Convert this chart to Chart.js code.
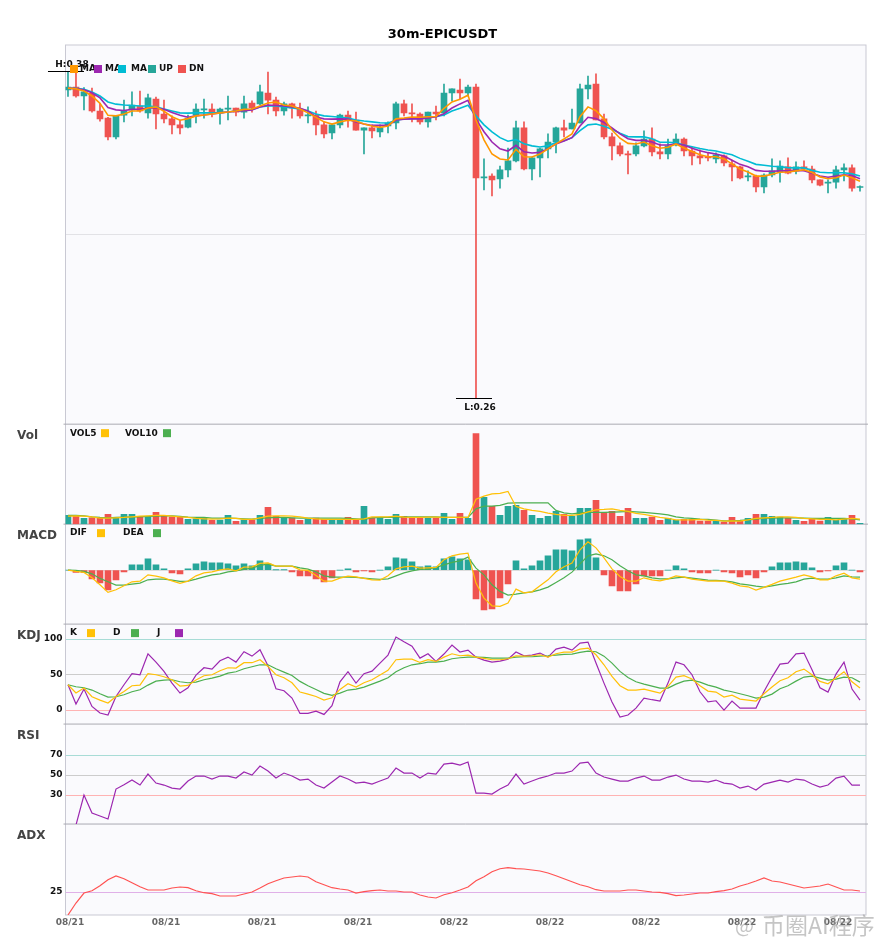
<!DOCTYPE html>
<html>
<head>
<meta charset="utf-8">
<title>30m-EPICUSDT</title>
<script src="https://cdn.jsdelivr.net/npm/chart.js@4"></script>
<style>
html, body { margin: 0; padding: 0; background: #fff; }
canvas { display: block; }
</style>
</head>
<body>
<canvas id="chart" width="885" height="950"></canvas>
<script>
const tickDays = ['08/21', '08/21', '08/21', '08/21', '08/22', '08/22', '08/22', '08/22', '08/22'];
const tickIndexes = [0, 12, 24, 36, 48, 60, 72, 84, 96];

const opens = [
    .3732, .3743, .3710, .3720, .3655, .3629, .3560, .3640, .3659, .3673,
    .3648, .3699, .3644, .3626, .3604, .3596, .3640, .3659, .3662, .3648,
    .3662, .3666, .3651, .3684, .3681, .3721, .3695, .3655, .3681, .3662,
    .3637, .3640, .3604, .3574, .3604, .3640, .3622, .3585, .3593, .3578,
    .3600, .3611, .3681, .3648, .3644, .3615, .3651, .3648, .3721, .3732,
    .3721, .3743, .3409, .3416, .3406, .3439, .3472, .3593, .3442, .3483,
    .3516, .3541, .3593, .3589, .3611, .3736, .3754, .3626, .3560, .3527,
    .3497, .3497, .3527, .3552, .3505, .3497, .3530, .3552, .3508, .3490,
    .3486, .3479, .3490, .3461, .3450, .3413, .3416, .3376, .3420, .3431,
    .3450, .3435, .3450, .3442, .3402, .3390, .3394, .3439, .3446, .3374
];
const closes = [
    .3743, .3710, .3725, .3655, .3626, .3560, .3637, .3655, .3677, .3655,
    .3703, .3644, .3626, .3604, .3593, .3629, .3662, .3662, .3648, .3662,
    .3666, .3651, .3681, .3666, .3725, .3695, .3655, .3681, .3666, .3637,
    .3640, .3604, .3571, .3604, .3640, .3622, .3585, .3593, .3582, .3593,
    .3611, .3681, .3648, .3644, .3615, .3651, .3644, .3721, .3736, .3721,
    .3743, .3409, .3413, .3402, .3439, .3472, .3593, .3442, .3483, .3516,
    .3541, .3593, .3585, .3611, .3736, .3750, .3622, .3560, .3527, .3497,
    .3494, .3527, .3552, .3505, .3497, .3527, .3552, .3508, .3490, .3483,
    .3483, .3494, .3464, .3450, .3409, .3416, .3376, .3420, .3435, .3453,
    .3427, .3450, .3442, .3402, .3383, .3394, .3439, .3446, .3372, .3377
];
const highs = [
    .3800, .3799, .3741, .3739, .3683, .3632, .3639, .3695, .3725, .3728,
    .3717, .3706, .3695, .3637, .3622, .3640, .3681, .3699, .3681, .3666,
    .3710, .3666, .3710, .3692, .3750, .3798, .3706, .3688, .3684, .3684,
    .3670, .3655, .3615, .3607, .3644, .3655, .3651, .3593, .3604, .3604,
    .3615, .3688, .3695, .3681, .3648, .3651, .3673, .3754, .3736, .3772,
    .3750, .3754, .3479, .3424, .3453, .3519, .3618, .3615, .3486, .3519,
    .3571, .3596, .3622, .3662, .3754, .3783, .3791, .3644, .3574, .3538,
    .3508, .3538, .3582, .3593, .3534, .3552, .3571, .3556, .3523, .3512,
    .3501, .3501, .3494, .3475, .3453, .3435, .3420, .3424, .3479, .3472,
    .3483, .3468, .3472, .3453, .3402, .3402, .3453, .3461, .3457, .3380
];
const lows = [
    .3708, .3706, .3659, .3651, .3618, .3549, .3552, .3615, .3637, .3651,
    .3629, .3589, .3611, .3571, .3571, .3593, .3611, .3629, .3633, .3607,
    .3622, .3637, .3629, .3651, .3677, .3644, .3637, .3640, .3629, .3629,
    .3611, .3567, .3556, .3552, .3593, .3596, .3585, .3497, .3556, .3560,
    .3574, .3589, .3637, .3615, .3607, .3596, .3622, .3637, .3692, .3699,
    .3710, .2600, .3365, .3343, .3372, .3413, .3468, .3439, .3402, .3413,
    .3483, .3501, .3560, .3589, .3611, .3699, .3622, .3552, .3475, .3490,
    .3424, .3490, .3523, .3490, .3479, .3479, .3527, .3490, .3457, .3461,
    .3472, .3464, .3453, .3398, .3406, .3398, .3358, .3354, .3413, .3394,
    .3424, .3424, .3435, .3391, .3380, .3354, .3372, .3398, .3361, .3361
];
const ma5 = [
    .3739, .3736, .3728, .3710, .3683, .3639, .3637, .3644, .3655, .3655,
    .3666, .3670, .3654, .3634, .3621, .3627, .3637, .3640, .3644, .3648,
    .3651, .3655, .3661, .3662, .3673, .3684, .3688, .3677, .3673, .3662,
    .3648, .3632, .3615, .3607, .3615, .3621, .3618, .3607, .3600, .3595,
    .3600, .3626, .3629, .3633, .3632, .3634, .3635, .3665, .3688, .3698,
    .3713, .3622, .3549, .3497, .3479, .3475, .3514, .3487, .3486, .3497,
    .3516, .3534, .3552, .3571, .3634, .3670, .3656, .3626, .3585, .3555,
    .3536, .3534, .3541, .3527, .3518, .3522, .3534, .3519, .3506, .3494,
    .3487, .3487, .3479, .3461, .3442, .3431, .3416, .3416, .3423, .3430,
    .3431, .3435, .3439, .3429, .3413, .3406, .3410, .3420, .3410, .3397
];
const ma10 = [
    .3739, .3737, .3733, .3722, .3703, .3668, .3659, .3657, .3661, .3662,
    .3665, .3667, .3661, .3649, .3639, .3632, .3637, .3640, .3644, .3648,
    .3651, .3654, .3656, .3659, .3670, .3677, .3675, .3673, .3670, .3665,
    .3655, .3633, .3626, .3625, .3626, .3625, .3615, .3607, .3602, .3602,
    .3602, .3622, .3625, .3626, .3626, .3629, .3634, .3645, .3666, .3681,
    .3694, .3625, .3579, .3541, .3516, .3508, .3529, .3505, .3501, .3503,
    .3516, .3534, .3545, .3557, .3600, .3632, .3627, .3613, .3593, .3571,
    .3553, .3547, .3547, .3541, .3530, .3530, .3534, .3530, .3518, .3509,
    .3502, .3497, .3490, .3474, .3459, .3450, .3437, .3434, .3434, .3435,
    .3435, .3437, .3436, .3426, .3416, .3412, .3416, .3421, .3418, .3406
];
const ma20 = [
    .3739, .3738, .3735, .3725, .3710, .3688, .3680, .3677, .3675, .3673,
    .3673, .3670, .3662, .3655, .3648, .3647, .3648, .3648, .3648, .3649,
    .3651, .3655, .3659, .3661, .3670, .3673, .3673, .3670, .3666, .3662,
    .3655, .3644, .3637, .3635, .3632, .3629, .3622, .3618, .3615, .3612,
    .3611, .3621, .3626, .3627, .3628, .3632, .3634, .3640, .3655, .3665,
    .3676, .3637, .3604, .3578, .3557, .3544, .3550, .3535, .3527, .3523,
    .3527, .3539, .3546, .3557, .3583, .3604, .3607, .3599, .3588, .3573,
    .3561, .3560, .3560, .3553, .3540, .3540, .3538, .3530, .3524, .3517,
    .3512, .3508, .3501, .3494, .3481, .3470, .3459, .3456, .3452, .3450,
    .3447, .3446, .3446, .3437, .3430, .3428, .3428, .3428, .3424, .3416
];
const volumes = [
    8.7, 7.7, 5.7, 6.3, 6.3, 9.7, 5.7, 9.7, 9.7, 7.7,
    7.7, 11.7, 7.7, 7, 7.7, 4.7, 5.3, 5.7, 3.7, 4,
    8.7, 2.7, 4, 4, 8.7, 16.7, 7.7, 6, 6, 3.7,
    4.7, 6, 4.7, 4, 4, 6.7, 4, 17.7, 6.3, 6.3,
    4.7, 9.7, 7.7, 6.3, 6, 6, 6, 10.7, 4.7, 10.7,
    5.7, 90.7, 26.7, 17.7, 8.7, 17.7, 18.7, 13.7, 8.7, 5.7,
    7.7, 12.7, 9.7, 7.7, 15.7, 15.7, 23.7, 11.7, 12.7, 7.7,
    15.7, 5.7, 5.7, 7, 3.7, 5.7, 3.7, 4.7, 4.7, 3,
    3, 3, 2, 6.7, 3, 5.7, 9.7, 9.7, 7.7, 7,
    5.7, 3.7, 2.7, 4.7, 3, 6.7, 3.7, 5.7, 8.7, 0.7
];
const vol5 = [
    8, 8.3, 8, 7.3, 6, 6, 6.3, 6.7, 7.3, 8,
    8.3, 8.7, 8.7, 8, 7.3, 6.7, 5.7, 5.3, 5, 5.3,
    6, 5.7, 4.7, 4.7, 6.3, 8, 8.3, 8.3, 8, 7.3,
    6, 5.3, 4.7, 4.7, 4.7, 4.7, 4.7, 5.3, 7.3, 7.3,
    7.3, 8, 7, 6.7, 6.7, 7, 7, 6.7, 6.7, 6.7,
    6.7, 25, 28, 30.3, 30.7, 32.7, 17.7, 15.3, 13.7, 12.7,
    11, 9.7, 8.7, 8.7, 9.7, 12.3, 14.3, 14.7, 15.3, 13.7,
    12.7, 10.7, 9.7, 8.3, 6.7, 5.7, 4.3, 4.3, 4.3, 4.7,
    4, 3.7, 3, 3.3, 3, 4.3, 5.7, 6.3, 6.7, 7.3,
    7.3, 6.7, 5.7, 5.3, 4.7, 4.7, 4.3, 5, 5.7, 5
];
const vol10 = [
    8.7, 8.7, 8.3, 7.3, 6.7, 6.3, 6.7, 7, 7.3, 7.3,
    7.7, 8, 8.3, 8.3, 7.7, 7, 6.7, 6.7, 6, 6,
    6, 5.7, 5.3, 5, 5.7, 6.3, 6.7, 6.7, 6.3, 6,
    6, 6, 6, 6, 6, 5.7, 5.3, 4.7, 6.3, 6.7,
    6.7, 7, 7.3, 7.3, 7.3, 7.3, 7.3, 6.7, 6.7, 6.7,
    6.7, 15.3, 18, 18, 18.7, 21, 21.3, 21.3, 21.3, 21.3,
    21.3, 13.7, 11.3, 10.3, 11.3, 11.7, 11.7, 11.7, 12, 12.3,
    12.7, 12.3, 11.7, 11, 10.3, 9.3, 7.3, 6.3, 5.7, 5,
    4.7, 4, 3.3, 3.3, 3.7, 4.3, 5, 6, 6, 6.3,
    6.3, 6.3, 6, 5.7, 5.7, 5.7, 5.7, 5.7, 5.3, 4.3
];
const macdHist = [
    0, -2.3, -2.3, -8.7, -12.7, -19.7, -9.7, -1.7, 5.3, 5.3,
    11.3, 5.3, 1.3, -2.7, -3.7, 1.3, 6.3, 8.3, 7.3, 7.3,
    6.3, 4.3, 6.3, 4.3, 9.3, 6.3, 0.3, 0.3, -1.7, -5.7,
    -5.7, -8.7, -11.7, -7.7, 0, 1.3, -1.7, -0.7, -1.7, 0,
    3.3, 12.3, 11.3, 8.3, 3.3, 4.3, 3.3, 11.3, 13.3, 11.3,
    10.3, -28.7, -39.7, -38.7, -27.7, -13.7, 9.3, 1.3, 4.3, 9.3,
    14.3, 20.3, 20.3, 19.3, 30.3, 31.3, 12.3, -4.7, -15.7, -20.7,
    -20.7, -13.7, -5.7, -5.7, -5.7, 0, 4.3, 1.3, -1.7, -2.7,
    -2.7, 0, -1.7, -2.7, -6.7, -4.7, -7.7, -1.7, 3.3, 7.3,
    7.3, 8.3, 7.3, 2.3, -1.7, -0.7, 4.3, 7.3, 0, -1.7
];
const dif = [
    0, -1.3, -2.3, -7.7, -14.7, -22.3, -19.7, -15.7, -11.7, -11,
    -4.7, -6, -7.7, -10.7, -13.3, -11, -5.7, -2.7, -1.7, 0.3,
    1.3, -0.7, 3, 3.3, 6.7, 7.3, 4, 4, 4, 0.3,
    -0.3, -5.3, -11, -11, -8, -6, -6.7, -8.3, -9.7, -10,
    -5.7, 1.3, 3.3, 4, 2, 2.3, 2.7, 10.3, 14.3, 16,
    17, -13, -28, -35.7, -36.3, -33, -19, -22.7, -21.7, -15.7,
    -9.7, -1.7, 3.3, 7, 20.3, 28.3, 22.3, 12.3, 1.3, -6.3,
    -11, -11, -7.7, -9.7, -10.7, -8.7, -5.7, -7, -9, -10,
    -11, -10.7, -11, -13, -15.7, -16.7, -20, -17.3, -14.3, -11,
    -9, -7, -4.7, -6.7, -9.7, -9.7, -5.7, -3, -7.7, -9
];
const dea = [
    0, -0.3, -1.3, -3.7, -8.3, -11.7, -15, -15, -14, -13,
    -9.7, -9, -9, -10, -11.3, -11, -9, -6.7, -4.7, -3.7,
    -1.7, -0.7, 0.7, 2, 4.7, 6, 4, 4, 4, 2.3,
    1, -1.7, -5.7, -7, -7, -7, -7.3, -8, -8.7, -9.3,
    -8.7, -5.7, -2.7, -0.7, 0.7, 1, 2.7, 5.3, 7.7, 9.3,
    13, 2, -4.7, -14.7, -21.3, -25, -24, -22.7, -21.7, -19.7,
    -17, -12.3, -7.7, -2, 6.3, 14.3, 16.3, 14.3, 10.3, 4.3,
    -0.7, -4.7, -5.7, -7.7, -8.7, -8.7, -7.7, -7, -8, -9,
    -10, -10.3, -10.7, -11.7, -13.7, -14.7, -16, -17, -15.7, -14.3,
    -13.3, -11.7, -9, -8, -9, -9, -7.7, -5.7, -6.7, -7
];
const kdjK = [
    35.7, 24, 31, 18.8, 14, 9.9, 19.2, 26.3, 34.3, 35.2,
    51.2, 49.8, 47, 42.7, 33.8, 34.7, 42.3, 48.4, 49.8, 55.4,
    59.6, 59.2, 66.7, 66.7, 70.9, 61.5, 49.8, 45.5, 38.5, 25.4,
    22.5, 19.2, 14.1, 17.4, 29.1, 37.1, 32.4, 38.5, 42.7, 49.3,
    55.9, 70.9, 71.8, 71.8, 67.1, 70.9, 68.5, 74.6, 79.3, 76.5,
    77.5, 74.6, 72.8, 70.9, 70.9, 72.3, 76.5, 76, 76.5, 77.9,
    74.6, 79.3, 81.7, 81.7, 85.9, 87.3, 77.9, 63.8, 47.4, 34.3,
    28.2, 28.2, 29.6, 26.8, 23.9, 33.3, 46.5, 48.4, 43.7, 34.3,
    26.8, 25.4, 18.3, 21.1, 15.5, 14.1, 12.7, 23, 32.4, 41.3,
    45.5, 54, 57.7, 49.8, 40.4, 37.1, 45.5, 54, 39.9, 31
];
const kdjD = [
    35.7, 32.9, 31.5, 28.2, 23, 18.3, 18.8, 21.6, 25.8, 28.6,
    35.2, 40.8, 42.3, 42.7, 39.9, 38.5, 39.4, 42.7, 45.1, 47.9,
    52.1, 54, 58.2, 61, 63.8, 63.8, 58.2, 53.5, 48.8, 40.4,
    34.3, 29.1, 23.5, 20.7, 23.9, 28.2, 29.6, 32.4, 36.6, 40.8,
    45.5, 54, 59.6, 63.8, 65.3, 67.6, 67.6, 69, 72.3, 73.7,
    74.6, 74.6, 74.2, 73.2, 73.2, 73.2, 74.6, 75.1, 75.1, 76,
    76.5, 77.5, 78.4, 78.9, 81.2, 83.1, 82.2, 76, 66.2, 54.5,
    46, 39.9, 36.6, 33.8, 31, 31, 36.6, 40.8, 42.3, 39.4,
    35.2, 32.4, 28.2, 25.8, 23, 20.2, 16.9, 18.3, 22.5, 30,
    34.3, 40.8, 46.5, 47.9, 45.1, 42.3, 43.7, 46.5, 45.5, 39.4
];
const kdjJ = [
    35.7, 8.5, 29.6, 5.2, -4.2, -7, 19.2, 35.7, 51.2, 49.8,
    79.3, 67.6, 54.5, 38, 24, 31.5, 49.3, 59.6, 57.7, 69.5,
    74.6, 67.6, 82.2, 76, 85, 62.4, 30, 27.2, 16.9, -4.7,
    -4.7, -1.4, -6.1, 6.1, 39.9, 54, 38, 51.2, 54.9, 66.2,
    77.5, 102.8, 96.2, 90.1, 73.2, 79.3, 68.5, 78.9, 91.5, 81.7,
    84.5, 74.6, 70.4, 67.6, 69, 71.8, 81.7, 76.5, 77.5, 80.3,
    74.6, 85.9, 88.7, 84.5, 94.4, 95.8, 66.2, 38, 11.3, -9.9,
    -7, 2.8, 16.9, 14.6, 12.7, 38, 67.6, 63.8, 49.8, 25.8,
    11.7, 13.1, 0, 12.7, 2.8, 2.8, 2.8, 26.3, 46.5, 64.8,
    66.2, 79.3, 80.3, 56.8, 31.5, 25.4, 50.7, 67.6, 29.6, 14.1
];
const rsi = [
    null, 0, 30, 12, 9, 6, 36, 40.3, 45, 40,
    51, 42, 40, 37, 36, 44, 49, 49, 46, 49,
    49, 47, 53, 50, 59, 54, 47, 52, 49, 45,
    46, 40, 37, 43, 49, 46, 42, 43, 41, 44,
    47, 57, 52, 52, 47, 52, 51, 61, 62, 60,
    63, 32, 32, 31, 36, 40, 51, 41, 44, 47,
    49, 52, 52, 54, 62, 63, 52, 48, 46, 44,
    44, 47, 49, 45, 45, 48, 50, 46, 44, 44,
    43, 45, 42, 41, 37, 39, 35, 41, 43, 45,
    43, 46, 45, 41, 38, 40, 47, 49, 40, 40
];
const adx = [
    2, 14, 24, 26.3, 31.3, 37.3, 41, 38.3, 34.3, 30.3,
    27, 27, 27, 29, 30, 29.3, 26.3, 24.3, 23.3, 21,
    21, 21, 23, 25, 29, 33.3, 36.3, 39, 40, 41,
    40, 35.3, 32.3, 29.3, 28, 27, 24, 25.3, 26.3, 27,
    26, 26, 25, 25, 22, 20, 19, 22.3, 24.3, 27,
    30, 36.3, 40.3, 45.3, 48.3, 49.3, 48.3, 48, 47, 46,
    44, 41.3, 38.3, 35.3, 32.3, 30.3, 27.3, 26, 26, 26,
    27, 27, 26, 25, 24.7, 23.3, 21.3, 22, 23, 24,
    24, 25.3, 26.3, 28, 31, 33.3, 36, 39, 36, 35,
    33, 31, 29, 30, 31, 33, 30, 27, 27, 26
];

const UP = '#26a69a';
const DOWN = '#ef5350';
const ORANGE = '#ff9800';
const PURPLE = '#9c27b0';
const CYAN = '#00bcd4';
const YELLOW = '#ffc107';
const GREEN = '#4caf50';
const FONT = '"DejaVu Sans", sans-serif';

const points = values => values.map((v, i) => ({ x: i, y: v }));
const candleColor = ctx => closes[ctx.dataIndex] >= opens[ctx.dataIndex] ? UP : DOWN;

function lineSet(values, color, axis, width) {
    return {
        type: 'line', data: points(values), yAxisID: axis, order: 1,
        borderColor: color, borderWidth: width || 1.2, pointRadius: 0, tension: 0, fill: false
    };
}

function barSet(data, color, axis, thickness, order, minLength) {
    return {
        type: 'bar', data: data, yAxisID: axis, order: order,
        backgroundColor: color, barThickness: thickness, grouped: false, minBarLength: minLength || 0
    };
}

// y axis of one pane, stacked on the left side of the chart
function pane(weight, min, max, ticks, gridColor, showLabels) {
    return {
        stack: 'panes', stackWeight: weight, min: min, max: max, position: 'left',
        afterBuildTicks: scale => { scale.ticks = ticks.map(v => ({ value: v })); },
        afterFit: scale => { scale.width = 65.5; scale.paddingTop = 0; scale.paddingBottom = 0; },
        border: { display: false },
        grid: { color: ctx => gridColor[ctx.tick.value] || '#ddd', drawTicks: false },
        ticks: {
            display: showLabels, padding: 3, autoSkip: false,
            color: '#111', font: { size: 9, weight: 'bold', family: FONT }
        }
    };
}

const paneFrames = {
    id: 'paneFrames',
    beforeDraw(chart) {
        const { ctx, chartArea: a, scales } = chart;
        ctx.save();
        ctx.fillStyle = '#fafafd';
        ctx.fillRect(a.left, a.top, a.width, a.height);
        ctx.lineWidth = 1;
        ctx.strokeStyle = '#c9c9d3';
        ctx.strokeRect(a.left, a.top, a.width, a.height);
        ctx.strokeStyle = '#aaaab2';
        ['vol', 'macd', 'kdj', 'rsi', 'adx'].forEach(id => {
            const y = scales[id].top;
            ctx.beginPath();
            ctx.moveTo(a.left - 2, y);
            ctx.lineTo(a.right + 2, y);
            ctx.stroke();
        });
        ctx.restore();
    }
};

// panel names, legends, high and low marks, title
const legends = {
    main: [['MA', 80, 70, ORANGE], ['MA', 105, 94, PURPLE], ['MA', 131, 118, CYAN], ['UP', 159, 148, UP], ['DN', 189, 178, DOWN]],
    vol: [['VOL5', 70, 101, YELLOW], ['VOL10', 125, 163, GREEN]],
    macd: [['DIF', 70, 97, YELLOW], ['DEA', 123, 153, GREEN]],
    kdj: [['K', 70, 87, YELLOW], ['D', 113, 131, GREEN], ['J', 157, 175, PURPLE]]
};
const paneNames = { vol: 'Vol', macd: 'MACD', kdj: 'KDJ', rsi: 'RSI', adx: 'ADX' };

const annotations = {
    id: 'annotations',
    afterDraw(chart) {
        const { ctx, scales } = chart;
        ctx.save();
        ctx.textBaseline = 'middle';

        ctx.fillStyle = '#000';
        ctx.textAlign = 'center';
        ctx.font = 'bold 13px ' + FONT;
        ctx.fillText('30m-EPICUSDT', 442.5, 35);

        // high and low marks
        const x = scales.x;
        const y = scales.main;
        ctx.font = 'bold 9px ' + FONT;
        [[0, highs[0], 'H:0.38', -6.5], [51, lows[51], 'L:0.26', 9.5]].forEach(([i, v, text, dy]) => {
            const px = x.getPixelForValue(i);
            const py = Math.round(y.getPixelForValue(v)) + 0.5;
            ctx.strokeStyle = '#000';
            ctx.lineWidth = 1;
            ctx.beginPath();
            ctx.moveTo(px - 20, py);
            ctx.lineTo(px + 16, py);
            ctx.stroke();
            ctx.fillStyle = '#111';
            ctx.fillText(text, px + 4, py + dy);
        });

        ctx.textAlign = 'left';
        Object.keys(paneNames).forEach(id => {
            ctx.fillStyle = '#444';
            ctx.font = 'bold 12px ' + FONT;
            ctx.fillText(paneNames[id], 17, scales[id].top + 12);
        });

        Object.keys(legends).forEach(id => {
            const cy = id === 'main' ? 69 : scales[id].top + 9;
            ctx.font = 'bold 9px ' + FONT;
            ctx.fillStyle = '#111';
            legends[id].forEach(item => ctx.fillText(item[0], item[1], cy));
            legends[id].forEach(item => {
                ctx.fillStyle = item[3];
                ctx.fillRect(item[2], cy - 4, 8, 8);
            });
        });

        ctx.fillStyle = 'rgba(150,150,150,0.55)';
        ctx.font = '20px "Noto Sans CJK SC", ' + FONT;
        ctx.fillText('@', 735, 925);
        ctx.font = '23px "Noto Sans CJK SC", ' + FONT;
        ctx.fillText('币圈AI程序', 762, 925);
        ctx.restore();
    }
};

new Chart(document.getElementById('chart'), {
    data: {
        datasets: [
            barSet(points(lows).map((p, i) => ({ x: i, y: [lows[i], highs[i]] })), candleColor, 'main', 1, 3, 1),
            barSet(points(opens).map((p, i) => ({ x: i, y: [opens[i], closes[i]] })), candleColor, 'main', 6, 2, 1),
            lineSet(ma5, ORANGE, 'main', 1.6),
            lineSet(ma10, PURPLE, 'main', 1.6),
            lineSet(ma20, CYAN, 'main', 1.6),

            barSet(points(volumes), candleColor, 'vol', 6, 2),
            lineSet(vol5, YELLOW, 'vol'),
            lineSet(vol10, GREEN, 'vol'),

            barSet(points(macdHist), ctx => macdHist[ctx.dataIndex] >= 0 ? UP : DOWN, 'macd', 6, 2),
            lineSet(dif, YELLOW, 'macd'),
            lineSet(dea, GREEN, 'macd'),

            lineSet(kdjK, YELLOW, 'kdj'),
            lineSet(kdjD, GREEN, 'kdj'),
            lineSet(kdjJ, PURPLE, 'kdj'),

            lineSet(rsi, PURPLE, 'rsi'),

            lineSet(adx, '#ff5252', 'adx')
        ]
    },
    options: {
        responsive: false,
        animation: false,
        events: [],
        layout: { padding: { top: 45, right: 19, bottom: 15, left: 0 } },
        plugins: { legend: { display: false }, tooltip: { enabled: false } },
        scales: {
            x: {
                type: 'linear', min: -0.31, max: 99.75, offset: false,
                afterBuildTicks: scale => { scale.ticks = tickIndexes.map(v => ({ value: v })); },
                afterFit: scale => { scale.height = 20; scale.paddingLeft = 0; scale.paddingRight = 0; },
                border: { display: false },
                grid: { display: false, offset: false, drawTicks: false, tickLength: 0 },
                ticks: {
                    autoSkip: false, maxRotation: 0, labelOffset: 2, padding: 2,
                    color: '#666', font: { size: 9, weight: 'bold', family: FONT },
                    callback: value => tickDays[tickIndexes.indexOf(value)]
                }
            },
            // stacked left axes are laid out last-defined first, so the top pane comes last here
            adx: pane(91, 2, 93, [25], { 25: '#e0b0e8' }, true),
            rsi: pane(100, 1, 101, [30, 50, 70], { 30: '#ffb3b3', 50: '#cccccc', 70: '#a8dcd6' }, true),
            kdj: pane(100, -19.7, 121.1, [0, 50, 100], { 0: '#ffb3b3', 50: '#cccccc', 100: '#a8dcd6' }, true),
            macd: pane(100, -54, 46, [0], { 0: '#dcdcdc' }, false),
            vol: pane(100, 0, 100, [], {}, false),
            main: pane(379.3, 0.25053, 0.38972, [0.32], { 0.32: '#e2e2e6' }, false)
        }
    },
    plugins: [paneFrames, annotations]
});
</script>
</body>
</html>
